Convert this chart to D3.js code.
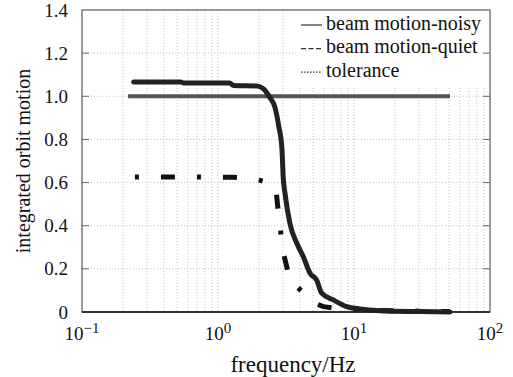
<!DOCTYPE html>
<html>
<head>
<meta charset="utf-8">
<script src="https://cdn.jsdelivr.net/npm/d3@7"></script>
<style>
  body { margin: 0; background: #fff; }
  svg text { font-family: "Liberation Serif", "Times New Roman", serif; fill: #111; }
</style>
</head>
<body>
<svg id="chart" width="513" height="377" font-family="Liberation Serif, serif"></svg>
<script>
// data
var noisyFreq = [0.24, 0.53, 0.56, 1.22, 1.3, 1.93, 2.15, 2.29, 2.4, 2.62, 2.8, 2.95, 3.02, 3.11, 3.38, 3.79, 4.24, 4.75, 5.32, 5.79, 7.05, 8.84, 11.07, 15.5, 30.5, 50.8];
var noisyVal  = [1.066, 1.066, 1.062, 1.062, 1.05, 1.048, 1.035, 1.015, 0.995, 0.95, 0.86, 0.76, 0.62, 0.55, 0.41, 0.32, 0.256, 0.18, 0.148, 0.087, 0.056, 0.025, 0.014, 0.006, 0.002, 0.0];

var quietFreq = [0.241, 1.29, 1.87, 2.33, 2.66, 2.76, 2.86, 2.94, 3.2, 3.38, 4.41, 5.17, 5.95, 7.45, 11.1, 50.8];
var quietVal  = [0.626, 0.625, 0.617, 0.60, 0.576, 0.48, 0.415, 0.307, 0.21, 0.148, 0.079, 0.04, 0.025, 0.017, 0.008, 0.002];

var tolFreq = [0.218, 50.8];
var tolVal  = [1.0, 1.0];

var yTicks = [0, 0.2, 0.4, 0.6, 0.8, 1.0, 1.2, 1.4];
var yTickLabels = ["0", "0.2", "0.4", "0.6", "0.8", "1.0", "1.2", "1.4"];
var xTicks = [0.1, 1, 10, 100];
var xTickExp = ["\u22121", "0", "1", "2"];

var legendNames = ["beam motion-noisy", "beam motion-quiet", "tolerance"];

var svg = d3.select("#chart");
var pLeft = 82, pRight = 490, pTop = 10, pBottom = 312;

var x = d3.scaleLog().domain([0.1, 100]).range([pLeft, pRight]);
var y = d3.scaleLinear().domain([0, 1.4]).range([pBottom, pTop]);

//grid lines
var minor = [];
[0.1, 1, 10].forEach(function (d) {
	for (var k = 1; k <= 9; k++) minor.push(d * k);
});

var grid = svg.append("g");
grid.selectAll(".gx").data(minor.filter(function (d) { return d > 0.1; }))
	.enter().append("line")
	.attr("x1", function (d) { return x(d); }).attr("x2", function (d) { return x(d); })
	.attr("y1", pTop).attr("y2", pBottom)
	.style("stroke", "#c4c4c4").style("stroke-width", 1).style("stroke-dasharray", "1,2");
grid.selectAll(".gy").data(yTicks.slice(1, -1))
	.enter().append("line")
	.attr("x1", pLeft).attr("x2", pRight)
	.attr("y1", function (d) { return y(d); }).attr("y2", function (d) { return y(d); })
	.style("stroke", "#c4c4c4").style("stroke-width", 1).style("stroke-dasharray", "1,2");

//legend box (covers grid)
var lg = svg.append("g");
lg.append("rect").attr("x", 296).attr("y", pTop + 1).attr("width", pRight - 297).attr("height", 75)
	.style("fill", "#fff");

//curves
var line = d3.line()
	.x(function (d) { return x(d[0]); })
	.y(function (d) { return y(d[1]); })
	.curve(d3.curveMonotoneX);

var tolData = d3.zip(tolFreq, tolVal);
var quietData = d3.zip(quietFreq, quietVal);
var noisyData = d3.zip(noisyFreq, noisyVal);

svg.append("path").datum(tolData).attr("d", line)
	.style("fill", "none").style("stroke", "#555").style("stroke-width", 4);

svg.append("path").datum(quietData).attr("d", d3.line()
		.x(function (d) { return x(d[0]); })
		.y(function (d) { return y(d[1]); }))
	.style("fill", "none").style("stroke", "#111").style("stroke-width", 5)
	.style("stroke-dasharray", "4,22,14,22").style("stroke-dashoffset", -1);

svg.append("path").datum(noisyData).attr("d", line)
	.style("fill", "none").style("stroke", "#222").style("stroke-width", 5)
	.style("stroke-linejoin", "round").style("stroke-linecap", "round");

//frame
svg.append("rect").attr("x", pLeft).attr("y", pTop)
	.attr("width", pRight - pLeft).attr("height", pBottom - pTop)
	.style("fill", "none").style("stroke", "#666").style("stroke-width", 1.3);
svg.append("line").attr("x1", pLeft).attr("x2", pRight).attr("y1", pBottom).attr("y2", pBottom)
	.style("stroke", "#111").style("stroke-width", 1.5);

//y ticks
var yAxis = svg.append("g");
yTicks.forEach(function (d, i) {
	if (d > 0 && d < 1.4) {
		yAxis.append("line").attr("x1", pLeft).attr("x2", pLeft + 7)
			.attr("y1", y(d)).attr("y2", y(d)).style("stroke", "#666");
		yAxis.append("line").attr("x1", pRight).attr("x2", pRight - 7)
			.attr("y1", y(d)).attr("y2", y(d)).style("stroke", "#666");
	}
	yAxis.append("text").attr("x", 68).attr("y", y(d) + 6.5)
		.attr("text-anchor", "end").style("font-size", "19px")
		.text(yTickLabels[i]);
});

//x tick labels
xTicks.forEach(function (d, i) {
	var t = svg.append("text").attr("x", x(d)).attr("y", 339.5)
		.attr("text-anchor", "middle").style("font-size", "19px");
	t.append("tspan").text("10");
	t.append("tspan").attr("dy", -7).style("font-size", "15px").text(xTickExp[i]);
});

//axis titles
svg.append("text").attr("x", 293).attr("y", 371.5)
	.attr("text-anchor", "middle").style("font-size", "23px")
	.text("frequency/Hz");
svg.append("text")
	.attr("transform", "translate(30,161) rotate(-90)")
	.attr("text-anchor", "middle").style("font-size", "20px")
	.text("integrated orbit motion");

//legend entries
var dashes = [null, "5,2.5", "1.5,1.5"];
legendNames.forEach(function (name, i) {
	var ly = 25 + i * 23.6;
	lg.append("line").attr("x1", 301).attr("x2", 322).attr("y1", ly).attr("y2", ly)
		.style("stroke", "#333").style("stroke-width", 1.2)
		.style("stroke-dasharray", dashes[i]);
	lg.append("text").attr("x", 326).attr("y", ly + 4.5)
		.style("font-size", "20px").text(name);
});
</script>
</body>
</html>
